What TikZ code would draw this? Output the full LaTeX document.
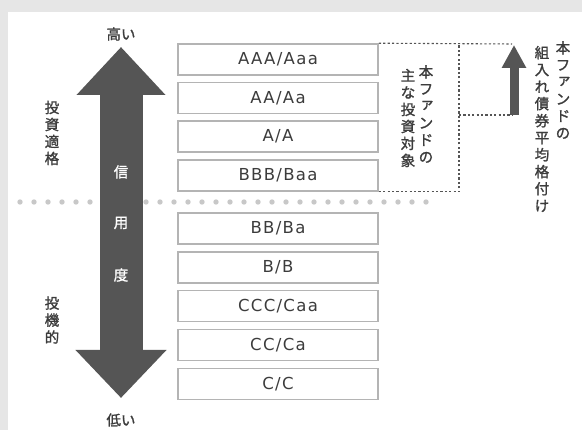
\documentclass[tikz,border=0pt]{standalone}
\usepackage{fontspec}
\setmainfont{Noto Sans CJK JP}[FakeBold=1.3]
\newfontfamily\ratingfont{DejaVu Sans}[LetterSpace=8]
\usepackage{tikz}
\usetikzlibrary{arrows.meta, calc}

\definecolor{bggray}{HTML}{E6E6E6}
\definecolor{boxgray}{HTML}{B4B4B4}
\definecolor{dotgray}{HTML}{C8C8C8}
\definecolor{arrowgray}{HTML}{555555}
\definecolor{textgray}{HTML}{3C3C3C}

\newcommand{\smallkana}[1]{\hspace*{2.5pt}\raisebox{2.5pt}{#1}}

\tikzset{
  rating/.style={draw=boxgray, line width=1.6pt, fill=white, minimum width=200pt,
    minimum height=31pt, inner sep=0pt, text=textgray,
    font=\ratingfont\fontsize{16.5}{17}\selectfont},
  tate/.style={align=center, inner sep=0pt, text=textgray,
    font=\fontsize{14.5}{17}\selectfont},
  dashline/.style={arrowgray, line width=1.1pt, dash pattern=on 2.2pt off 2.2pt},
}

\begin{document}
\begin{tikzpicture}[x=1pt,y=-1pt]
      \useasboundingbox (0,0) rectangle (582,430);
      \fill[bggray] (0,0) rectangle (582,430);
      \fill[white] (8,12) rectangle (582,430);
      % dotted border between grades
      \foreach \i in {0,...,29}
        \fill[dotgray] (20+14*\i,202) circle (2.7);
      % credit arrow
      \draw[arrowgray, line width=43pt,
        {Triangle[width=86pt,length=48pt]}-{Triangle[width=88pt,length=48pt]}]
        (121,47) -- (121,398);
      \node[tate, text=white] (c1) at (121,172) {信};
      \node[tate, text=white] (c2) at (121,223) {用};
      \node[tate, text=white] (c3) at (121,275) {度};
      \node[tate] (hi) at (121,34) {高い};
      \node[tate] (lo) at (121,420) {低い};
      \node[tate] (inv) at (52,133) {投\\資\\適\\格};
      \node[tate] (spec) at (52,320) {投\\機\\的};
      % ratings
      \node[rating] (r1) at (278,59.5) {AAA/Aaa};
      \node[rating] (r2) at (278,98) {AA/Aa};
      \node[rating] (r3) at (278,136.5) {A/A};
      \node[rating] (r4) at (278,175.5) {BBB/Baa};
      \node[rating] (r5) at (278,228.5) {BB/Ba};
      \node[rating] (r6) at (278,267.5) {B/B};
      \node[rating] (r7) at (278,306) {CCC/Caa};
      \node[rating] (r8) at (278,345) {CC/Ca};
      \node[rating] (r9) at (278,384) {C/C};
      % main investment range
      \coordinate (t1) at (459,44);
      \coordinate (t2) at (512,44);
      \coordinate (s1) at (459,115);
      \coordinate (s2) at (512,115);
      \draw[dashline] (r1.north east) -- (t2);
      \draw[dashline] (r4.south east) -| (t1);
      \draw[dashline] (s1) -- (s2);
      \node[tate] (fund1) at (426,114) {本\\フ\\\smallkana{ァ}\\ン\\ド\\の};
      \node[tate] (fund2) at (408,118) {主\\な\\投\\資\\対\\象};
      % average rating
      \coordinate (a1) at (514,115);
      \coordinate (a2) at (514,45);
      \draw[arrowgray, line width=9pt, -{Triangle[width=23pt,length=23pt]}] (a1) -- (a2);
      \node[tate] (avg1) at (563,90) {本\\フ\\\smallkana{ァ}\\ン\\ド\\の};
      \node[tate] (avg2) at (542,129) {組\\入\\れ\\債\\券\\平\\均\\格\\付\\け};
    \end{tikzpicture}
\end{document}
